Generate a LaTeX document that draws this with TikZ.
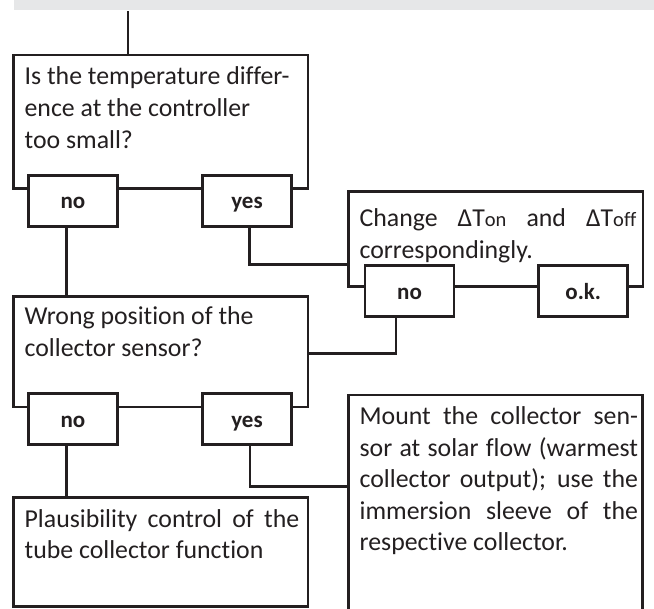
\documentclass[tikz,border=0pt]{standalone}
\usepackage{fontspec}
\setmainfont{Carlito}[Ligatures=NoCommon]
\definecolor{ink}{HTML}{231F20}
\definecolor{barg}{HTML}{E6E7E8}
\begin{document}
\begin{tikzpicture}[x=1pt,y=-1pt,
  line width=2.7pt, draw=ink, text=ink,
  frame/.style={draw=ink, fill=white, line width=2.7pt, inner sep=0pt, rectangle},
  answer/.style={frame, minimum width=89pt, minimum height=51pt,
    text height=16pt, text depth=0pt,
    font=\bfseries\fontsize{23}{23}\selectfont},
  txt/.style={anchor=base west, inner sep=0pt, text=ink,
    font=\fontsize{25.8}{31.6}\selectfont},
  wire/.style={draw=ink, line width=2.7pt}
]
\clip (0,0) rectangle (654,609);
% grey bar
\node[fill=barg, inner sep=0pt, minimum width=660pt, minimum height=14pt, anchor=north west] (bar) at (12.5,-5.5) {};
% big boxes
\node[frame, minimum width=294.3pt, minimum height=133.3pt] (box1) at (160.85,121.65) {};
\node[frame, minimum width=294.7pt, minimum height=95.2pt] (box3) at (495.65,239.1) {};
\node[frame, minimum width=294.3pt, minimum height=110.3pt] (box2) at (160.85,351.85) {};
\node[frame, minimum width=294.3pt, minimum height=109.4pt] (box4) at (160.85,552) {};
\node[frame, minimum width=294.4pt, minimum height=245pt] (box5) at (495.5,517.5) {};
% answer boxes
\node[answer] (no1) at (73,200.75) {no};
\node[answer] (yes1) at (247,200.75) {yes};
\node[answer] (no3) at (409.5,291.35) {no};
\node[answer] (ok3) at (583.25,291.35) {o.k.};
\node[answer] (no2) at (73,419.15) {no};
\node[answer] (yes2) at (247,419.15) {yes};
% texts
\node[txt] (t1) at (23.3,85) {\vtop{\baselineskip=32pt
  \hbox{Is the temperature differ-}
  \hbox{ence at the controller}
  \hbox{too small?}}};
\node[txt] (t3) at (358.3,226.7) {\vtop{\baselineskip=31.6pt
  \hbox to 276.7pt{Change ΔT{\fontsize{20.5}{21}\selectfont on} and ΔT{\fontsize{20.5}{21}\selectfont off}}
  \hbox{correspondingly.}}};
\node[txt] (t2) at (23.3,325) {\vtop{\baselineskip=31.7pt
  \hbox{Wrong position of the}
  \hbox{collector sensor?}}};
\node[txt] (t4) at (23.3,527.3) {\vtop{\baselineskip=31.7pt
  \hbox to 274.7pt{Plausibility control of the}
  \hbox{tube collector function}}};
\node[txt] (t5) at (358.3,425) {\vtop{\baselineskip=31.5pt
  \hbox to 278.4pt{Mount the collector sen-}
  \hbox to 278.4pt{sor at solar flow (warmest}
  \hbox to 278.4pt{collector output); use the}
  \hbox to 278.4pt{immersion sleeve of the}
  \hbox{respective collector.}}};
% connectors
\coordinate (c0) at (128,0);
\coordinate (cL) at (66.7,0);
\coordinate (j1) at (249.5,264.3);
\coordinate (j2) at (396,353.3);
\coordinate (j3) at (250,486.7);
\draw[wire] (c0 |- bar.south) -- (c0 |- box1.north);
\draw[wire] (cL |- no1.south) -- (cL |- box2.north);
\draw[wire] (j1 |- yes1.south) -- (j1) -- (j1 -| box3.west);
\draw[wire] (j2 |- no3.south) -- (j2) -- (j2 -| box2.east);
\draw[wire] (cL |- no2.south) -- (cL |- box4.north);
\draw[wire] (j3 |- yes2.south) -- (j3) -- (j3 -| box5.west);
\end{tikzpicture}
\end{document}
